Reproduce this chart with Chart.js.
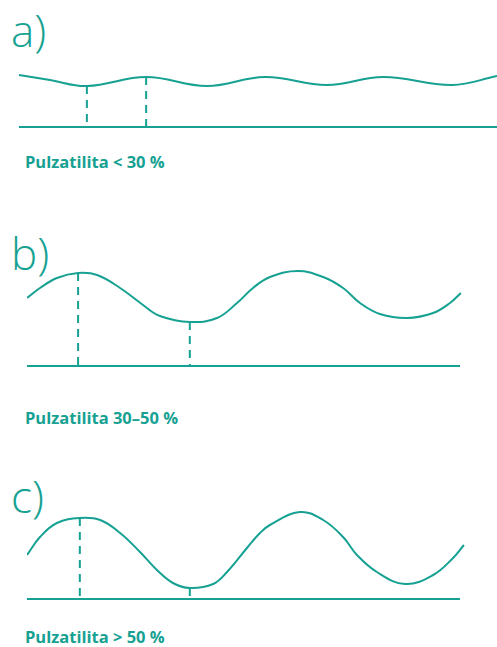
<!DOCTYPE html>
<html>
<head>
<meta charset="utf-8">
<script src="https://cdn.jsdelivr.net/npm/chart.js@4"></script>
<style>
    body { margin: 0; width: 497px; height: 647px; background: #fff; position: relative; overflow: hidden;
           font-family: "Open Sans", sans-serif; color: #16a192; }
    .panel { position: absolute; }
    .letter { position: absolute; left: 11px; font-size: 44px; font-weight: 300; line-height: 1; }
    .label { position: absolute; left: 25px; font-size: 16.5px; font-weight: 700; line-height: 1; }
</style>
</head>
<body>
<div class="letter" style="top:8px">a)</div>
<div class="panel" style="left:19px; top:60px; width:478px; height:80px"><canvas id="chartA"></canvas></div>
<div class="label" style="top:154px">Pulzatilita &lt; 30 %</div>

<div class="letter" style="top:231px">b)</div>
<div class="panel" style="left:27px; top:255px; width:443px; height:125px"><canvas id="chartB"></canvas></div>
<div class="label" style="top:410px">Pulzatilita 30–50 %</div>

<div class="letter" style="top:474px">c)</div>
<div class="panel" style="left:27px; top:495px; width:443px; height:120px"><canvas id="chartC"></canvas></div>
<div class="label" style="top:629px">Pulzatilita &gt; 50 %</div>

<script>
const TEAL = '#16a192';

// a) low pulsatility - time (0-100) and flow height above baseline
const timeA = [0, 6.5, 14.2, 26.6, 39.3, 51.5, 64.4, 76.2, 90.6, 100];
const flowA = [52, 47, 41, 50, 41, 50, 42, 50, 42, 51];
const marksA = [14.2, 26.6];

// b) medium pulsatility
const timeB = [0, 3.0, 6.9, 11.8, 16.2, 21.5, 26.8, 30.7, 37.6, 43.9, 48.5, 52.2, 56.1, 62.6, 68.4, 73.0, 76.9, 81.5, 87.8, 93.8, 97.7, 100.2];
const flowB = [68, 78, 88, 93, 91, 78, 61, 50, 44, 48, 63, 78, 89, 95, 89, 78, 63, 52, 48, 53, 63, 73];
const marksB = [11.8, 37.6];

// c) high pulsatility
const timeC = [0, 3.0, 6.9, 12.2, 16.9, 21.5, 26.1, 30.0, 33.7, 37.6, 43.0, 46.2, 50.8, 53.8, 56.1, 63.0, 68.4, 73.0, 76.2, 80.8, 87.3, 93.8, 98.4, 100.9];
const flowC = [44, 62, 76, 81, 79, 66, 47, 29, 16, 11, 15, 27, 51, 66, 74, 87, 79, 62, 44, 27, 15, 24, 41, 54];
const marksC = [12.2, 37.6];

function makePanel(id, times, values, marks, yMin, yMax, padRight) {
    const ctx = document.getElementById(id).getContext('2d');

    const datasets = [
        {
            // pulse wave
            data: times.map((t, i) => ({ x: t, y: values[i] })),
            borderColor: TEAL,
            borderWidth: 2,
            tension: 0.4,
            clip: false
        },
        {
            // baseline
            data: [{ x: 0, y: 0 }, { x: 100, y: 0 }],
            borderColor: TEAL,
            borderWidth: 2.2,
            clip: false
        }
    ];

    // dashed drops from peak / trough to baseline
    marks.forEach(t => {
        const v = values[times.indexOf(t)];
        datasets.push({
            data: [{ x: t, y: v }, { x: t, y: 0 }],
            borderColor: TEAL,
            borderWidth: 2,
            borderDash: [8, 6],
            clip: false
        });
    });

    new Chart(ctx, {
        type: 'scatter',
        data: { datasets: datasets },
        options: {
            responsive: true,
            maintainAspectRatio: false,
            animation: false,
            events: [],
            showLine: true,
            elements: { point: { radius: 0 } },
            layout: { padding: { left: 0, right: padRight, top: 0, bottom: 0 } },
            plugins: { legend: { display: false }, tooltip: { enabled: false } },
            scales: {
                x: { type: 'linear', min: 0, max: 100, display: false },
                y: { min: yMin, max: yMax, display: false }
            }
        }
    });
}

makePanel('chartA', timeA, flowA, marksA, -13, 67, 0);
makePanel('chartB', timeB, flowB, marksB, -14, 111, 10);
makePanel('chartC', timeC, flowC, marksC, -16, 104, 10);
</script>
</body>
</html>
